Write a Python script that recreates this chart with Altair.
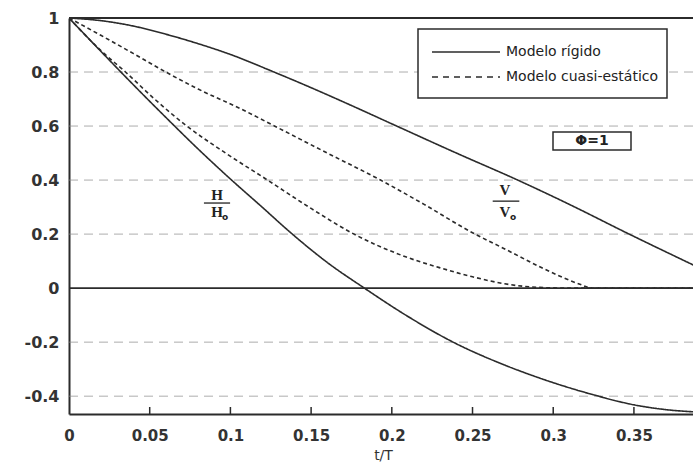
import altair as alt
import pandas as pd

# ---------------- data ----------------
x_ticks = [0, 0.05, 0.1, 0.15, 0.2, 0.25, 0.3, 0.35]
y_ticks = [-0.4, -0.2, 0, 0.2, 0.4, 0.6, 0.8, 1]
grid_y = [-0.4, -0.2, 0.2, 0.4, 0.6, 0.8]
solid_y = [0, 1]

# Modelo rígido, H/Ho
h_rig_t = [0, 0.02, 0.04, 0.06, 0.08, 0.10, 0.12, 0.137, 0.16, 0.183, 0.21, 0.238, 0.27, 0.30, 0.325, 0.35, 0.37, 0.387]
h_rig_v = [1, 0.875, 0.752, 0.632, 0.515, 0.404, 0.298, 0.207, 0.095, 0, -0.105, -0.2, -0.285, -0.35, -0.395, -0.432, -0.45, -0.458]

# Modelo rígido, V/Vo
v_rig_t = [0, 0.02, 0.04, 0.06, 0.08, 0.10, 0.127, 0.15, 0.175, 0.203, 0.24, 0.278, 0.31, 0.345, 0.387]
v_rig_v = [1, 0.99, 0.97, 0.94, 0.905, 0.865, 0.8, 0.742, 0.676, 0.6, 0.5, 0.4, 0.31, 0.206, 0.085]

# Modelo cuasi-estático, H/Ho
h_qs_t = [0, 0.02, 0.035, 0.053, 0.073, 0.097, 0.123, 0.15, 0.175, 0.209, 0.23, 0.25, 0.27, 0.29, 0.31, 0.387]
h_qs_v = [1, 0.878, 0.8, 0.7, 0.6, 0.5, 0.4, 0.295, 0.205, 0.115, 0.075, 0.042, 0.016, 0.003, 0, 0]

# Modelo cuasi-estático, V/Vo
v_qs_t = [0, 0.02, 0.04, 0.06, 0.08, 0.106, 0.129, 0.16, 0.193, 0.22, 0.25, 0.27, 0.292, 0.305, 0.317, 0.324, 0.387]
v_qs_v = [1, 0.935, 0.868, 0.8, 0.737, 0.665, 0.595, 0.5, 0.4, 0.31, 0.205, 0.145, 0.078, 0.042, 0.013, 0, 0]

legend_labels = ["Modelo rígido", "Modelo cuasi-estático"]
phi_label = "\u03a6=1"

# annotation anchors (data coordinates)
ann_t = [0.0917, 0.0917, 0.2701, 0.2701]
ann_v = [0.344, 0.281, 0.363, 0.281]
ann_txt = ["H", "H", "V", "V"]
sub_t = [0.0917, 0.2701]
sub_v = [0.281, 0.281]
bar_t = [0.0836, 0.2625]
bar_t2 = [0.0998, 0.2790]
bar_v = [0.315, 0.322]

# ---------------- tables ----------------
rows = []
for name, model, ts, vs in [
    ("H_rig", legend_labels[0], h_rig_t, h_rig_v),
    ("V_rig", legend_labels[0], v_rig_t, v_rig_v),
    ("H_qs", legend_labels[1], h_qs_t, h_qs_v),
    ("V_qs", legend_labels[1], v_qs_t, v_qs_v),
]:
    for i, (t, v) in enumerate(zip(ts, vs)):
        rows.append({"t": t, "v": v, "curve": name, "modelo": model, "i": i})
df = pd.DataFrame(rows)

W, H = 624, 396
xs = alt.Scale(domain=[0, 0.3866], nice=False, zero=False)
ys = alt.Scale(domain=[-0.466, 1], nice=False, zero=False)
INK = "#2b2b2b"

x_axis = alt.Axis(values=x_ticks, format=".2~f", title="t/T", grid=False, ticks=False, tickSize=0,
                  domain=True, domainWidth=2, domainColor=INK, labelFlush=False,
                  labelFont="DejaVu Sans", labelFontWeight="bold", labelFontSize=15, labelColor="#333",
                  labelPadding=14, titleFont="DejaVu Sans", titleFontWeight="normal", titleFontSize=14,
                  titleColor="#333", titleX=314, titleY=34, titleBaseline="top", titleAlign="center")
y_axis = alt.Axis(values=y_ticks, format=".1~f", labelExpr="replace(datum.label, '\u2212', '-')",
                  title=None, grid=False, ticks=False, tickSize=0, domain=True, domainWidth=2,
                  domainColor=INK, labelFlush=False, labelFont="DejaVu Sans", labelFontWeight="bold",
                  labelFontSize=16, labelColor="#333", labelPadding=10)

grid = alt.Chart(pd.DataFrame({"y": grid_y})).mark_rule(
    color="#8a8a8a", strokeWidth=1, strokeDash=[9, 6], opacity=0.7
).encode(y=alt.Y("y:Q", scale=ys, axis=y_axis), x=alt.value(0), x2=alt.value(W))

solid = alt.Chart(pd.DataFrame({"y": solid_y})).mark_rule(color=INK, strokeWidth=1.8).encode(
    y=alt.Y("y:Q", scale=ys), x=alt.value(0), x2=alt.value(W))

curves = alt.Chart(df).mark_line(color=INK, strokeWidth=1.6, clip=True, interpolate="monotone").encode(
    x=alt.X("t:Q", scale=xs, axis=x_axis),
    y=alt.Y("v:Q", scale=ys),
    detail="curve:N",
    order="i:Q",
    strokeDash=alt.StrokeDash("modelo:N", scale=alt.Scale(domain=legend_labels, range=[[1, 0], [4, 3]]),
                              legend=None),
)

xt = alt.Chart(pd.DataFrame({"x": x_ticks[1:]})).mark_rule(color=INK, strokeWidth=1.5).encode(
    x=alt.X("x:Q", scale=xs), y=alt.value(H), y2=alt.value(H - 7))

one = pd.DataFrame({"a": [0]})
leg_box = alt.Chart(one).mark_rect(fill="white", stroke=INK, strokeWidth=1.5).encode(
    x=alt.value(349), x2=alt.value(598), y=alt.value(11), y2=alt.value(80))
leg_l1 = alt.Chart(one).mark_rule(color=INK, strokeWidth=1.6).encode(
    x=alt.value(363), x2=alt.value(431), y=alt.value(34))
leg_l2 = alt.Chart(one).mark_rule(color=INK, strokeWidth=1.6, strokeDash=[6, 5]).encode(
    x=alt.value(363), x2=alt.value(431), y=alt.value(59))
leg_t1 = alt.Chart(one).mark_text(align="left", baseline="middle", font="DejaVu Sans", fontSize=14,
                                  color="#222", text=legend_labels[0]).encode(x=alt.value(437), y=alt.value(34))
leg_t2 = alt.Chart(one).mark_text(align="left", baseline="middle", font="DejaVu Sans", fontSize=14,
                                  color="#222", text=legend_labels[1]).encode(x=alt.value(437), y=alt.value(59))

phi_box = alt.Chart(one).mark_rect(fill="white", stroke=INK, strokeWidth=1.5).encode(
    x=alt.value(484), x2=alt.value(562), y=alt.value(114), y2=alt.value(132))
phi_txt = alt.Chart(one).mark_text(align="center", baseline="middle", font="DejaVu Sans", fontSize=14,
                                   fontWeight="bold", color="#222", text=phi_label).encode(
    x=alt.value(523), y=alt.value(123))

ann = alt.Chart(pd.DataFrame({"t": ann_t, "v": ann_v, "txt": ann_txt})).mark_text(
    font="Liberation Serif", fontWeight="bold", fontSize=15, color="#222", baseline="middle", align="center"
).encode(x=alt.X("t:Q", scale=xs), y=alt.Y("v:Q", scale=ys), text="txt:N")
subs = alt.Chart(pd.DataFrame({"t": sub_t, "v": sub_v})).mark_text(
    font="DejaVu Sans", fontWeight="bold", fontSize=9, color="#222", baseline="middle", align="left",
    dx=5, dy=5, text="o"
).encode(x=alt.X("t:Q", scale=xs), y=alt.Y("v:Q", scale=ys))
bars = alt.Chart(pd.DataFrame({"t": bar_t, "t2": bar_t2, "v": bar_v})).mark_rule(
    color="#222", strokeWidth=1.3
).encode(x=alt.X("t:Q", scale=xs), x2="t2:Q", y=alt.Y("v:Q", scale=ys))

chart = alt.layer(
    grid, solid, curves, xt, leg_box, leg_l1, leg_l2, leg_t1, leg_t2, phi_box, phi_txt, ann, subs, bars
).properties(
    width=W, height=H,
    padding={"left": 69, "top": 18, "right": 0, "bottom": 49},
    autosize=alt.AutoSizeParams(type="none"),
    background="white",
).configure_view(strokeWidth=0)

chart.save("out.html", embed_options={"renderer": "svg", "actions": False})
